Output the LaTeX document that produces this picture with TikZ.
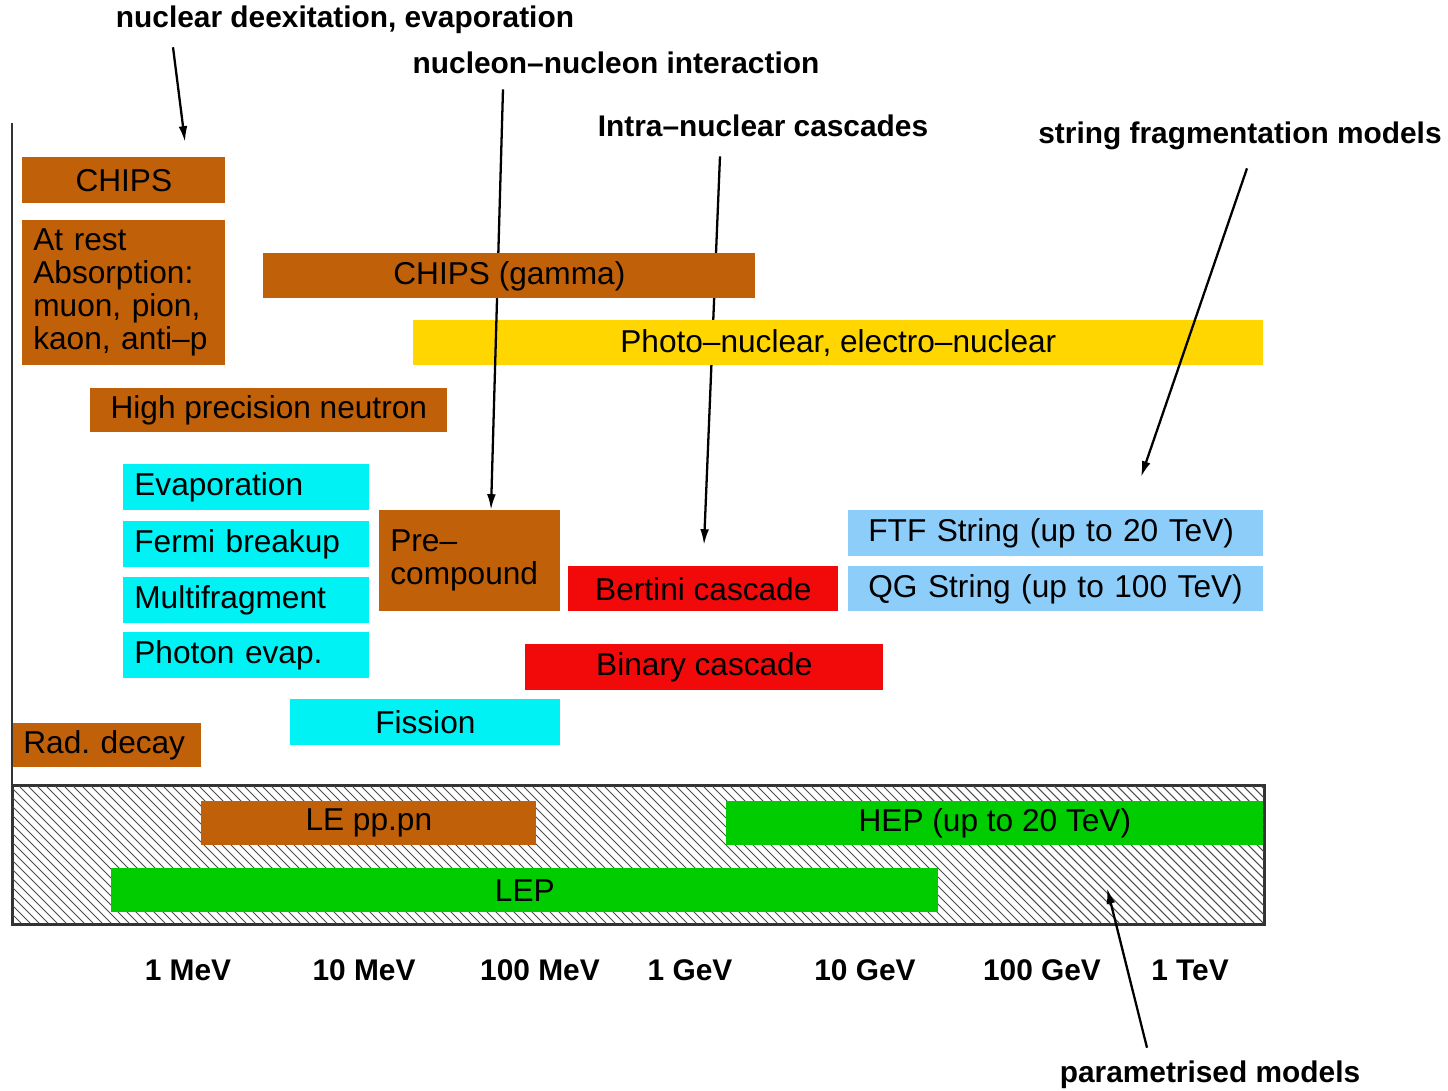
\documentclass[tikz,border=0pt]{standalone}
\usepackage{fontspec}
\setmainfont{Liberation Sans}
\usetikzlibrary{calc,arrows.meta}
\definecolor{chips}{RGB}{192,96,8}
\definecolor{photo}{RGB}{255,214,0}
\definecolor{deex}{RGB}{0,242,245}
\definecolor{casc}{RGB}{242,10,10}
\definecolor{strg}{RGB}{140,205,250}
\definecolor{hep}{RGB}{0,204,0}
\begin{document}
\begin{tikzpicture}[x=0.02cm,y=-0.02cm,
  bar/.style={rectangle,anchor=north west,inner sep=0pt,minimum height=45*\px,font=\fontsize{18}{18.8}\selectfont\frenchspacing},
  lbar/.style={bar,align=left,inner xsep=11*\px,text width=(#1-22)*\px},
  note/.style={font=\fontsize{17}{20}\selectfont\bfseries,inner sep=0pt},
  arr/.style={-{Latex[length=9pt,width=5pt]},line width=1.3pt}]
\def\px{0.02cm}
\useasboundingbox (0,0) rectangle (1448,1091);
% labels above and below
\node[note] (deexnote) at (345,20) {nuclear deexitation, evaporation};
\node[note] (nnnote) at (616,63) {nucleon--nucleon interaction};
\node[note] (incnote) at (763,126) {Intra--nuclear cascades};
\node[note] (strnote) at (1240,136) {string fragmentation models};
\node[note] (parnote) at (1210,1075) {parametrised models};
\coordinate (deexto) at (185,142);
\coordinate (nnto) at (491,510);
\coordinate (incto) at (704,545);
\coordinate (strto) at (1141,477);
\coordinate (parto) at (1107,888);
\draw[arr] ($(deexnote.south)+(-172,13)$) -- (deexto);
\draw[arr] ($(incnote.south)+(-43,19)$) -- (incto);
% models
\node[bar,fill=photo,minimum width=850*\px] (photo) at (413,320) {Photo--nuclear, electro--nuclear};
\draw[arr] ($(nnnote.south)+(-113,15)$) -- (nnto);
\draw[arr] ($(strnote.south)+(7,18)$) -- (strto);
\node[bar,fill=chips,minimum width=203*\px,minimum height=46*\px] (chips) at (22,157) {CHIPS};
\node[lbar=203,fill=chips,minimum height=145*\px] (rest) at (22,220) {At rest\\Absorption:\\muon, pion,\\kaon, anti--p};
\node[bar,fill=chips,minimum width=492*\px] (gamma) at (263,253) {CHIPS (gamma)};
\node[bar,fill=chips,minimum width=357*\px,minimum height=44*\px] (hpn) at (90,388) {High precision neutron};
\node[lbar=246,fill=deex,minimum height=46*\px] (evap) at (123,464) {Evaporation};
\node[lbar=246,fill=deex,minimum height=46*\px] (fermi) at (123,521) {Fermi breakup};
\node[lbar=246,fill=deex,minimum height=46*\px] (multi) at (123,577) {Multifragment};
\node[lbar=246,fill=deex,minimum height=46*\px] (phevap) at (123,632) {Photon evap.};
\node[lbar=181,fill=chips,minimum height=101*\px] (pre) at (379,510) {Pre--\\compound};
\node[bar,fill=casc,minimum width=270*\px] (bert) at (568,566) {Bertini cascade};
\node[bar,fill=strg,align=left,inner xsep=20*\px,text width=375*\px,minimum height=46*\px] (ftf) at (848,510) {FTF String (up to 20 TeV)};
\node[bar,fill=strg,align=left,inner xsep=20*\px,text width=375*\px] (qgs) at (848,566) {QG String (up to 100 TeV)};
\node[bar,fill=casc,minimum width=358*\px,minimum height=46*\px] (binary) at (525,644) {Binary cascade};
\node[bar,fill=deex,minimum width=270*\px,minimum height=46*\px] (fission) at (290,699) {Fission};
\node[lbar=189,fill=chips,minimum height=44*\px] (rad) at (12,723) {Rad. decay};
% parametrised region
\node[draw=black!80,line width=1pt,anchor=north west,inner sep=0pt,minimum width=1251*\px,minimum height=138*\px] (param) at (12,785) {};
\begin{scope}
\clip (param.north west) rectangle (param.south east);
\foreach \i in {-126,-117,...,1263}
  \draw[black!70,line width=0.6pt] (\i,785) -- ++(138,138);
\end{scope}
\draw[black!80,line width=1pt] (param.north west) rectangle (param.south east);
\node[bar,fill=chips,minimum width=335*\px,minimum height=44*\px] (lepp) at (201,801) {LE pp.pn};
\node[bar,fill=hep,minimum width=537*\px,minimum height=44*\px] (hep) at (726,801) {HEP (up to 20 TeV)};
\node[bar,fill=hep,minimum width=827*\px,minimum height=44*\px] (lep) at (111,868) {LEP};
\draw[arr] ($(parnote.north)+(-63,-13)$) -- (parto);
% axis
\coordinate (axtop) at (12,123);
\draw[black!80,line width=1pt] (axtop) -- (param.north west);
\foreach \x/\t/\n in {188/1 MeV/mev1,364/10 MeV/mev10,540/100 MeV/mev100,690/1 GeV/gev1,865/10 GeV/gev10,1042/100 GeV/gev100,1190/1 TeV/tev1}
  \node[note] (\n) at (\x,970) {\t};
\end{tikzpicture}
\end{document}
